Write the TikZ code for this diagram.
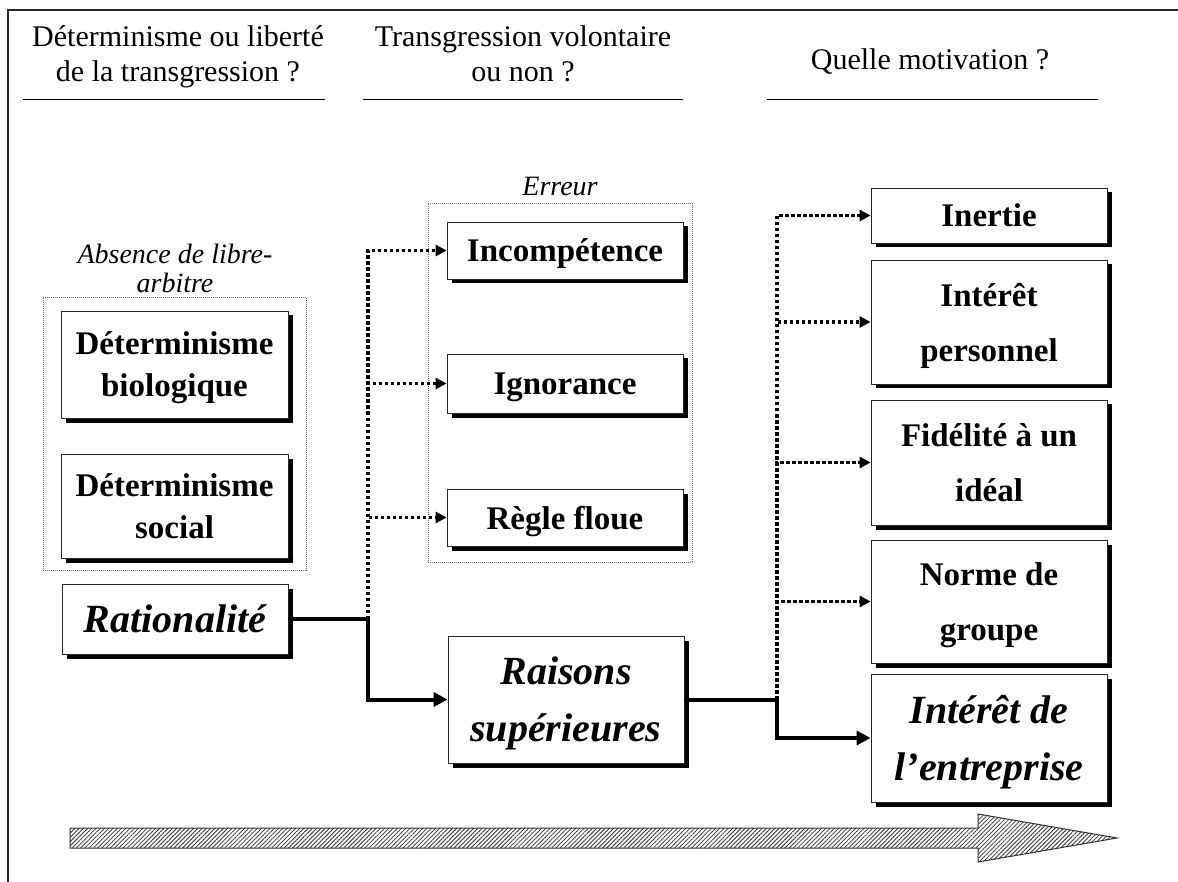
\documentclass[tikz,border=0pt]{standalone}
\usepackage{fontspec}
\setmainfont{Liberation Serif}
\usetikzlibrary{shadows,arrows.meta,patterns.meta}
\begin{document}
\begin{tikzpicture}[x=1pt,y=-1pt,
 box/.style={draw=black!85, line width=0.8pt, fill=white, drop shadow={shadow xshift=4.5pt, shadow yshift=-4.5pt, fill=black, opacity=1}, inner sep=0pt, align=center, text depth=0pt},
 lbox/.style={box, font=\bfseries\fontsize{33}{42}\selectfont},
 rbox/.style={box, font=\bfseries\fontsize{33}{55}\selectfont},
 ibox/.style={box, font=\bfseries\itshape\fontsize{40}{57}\selectfont},
 grp/.style={draw=black!60, line width=0.6pt, dash pattern=on 1pt off 1pt, inner sep=0pt},
 hdr/.style={font=\fontsize{30}{35}\selectfont, align=center, inner sep=0pt},
 lab/.style={font=\itshape\fontsize{28}{29}\selectfont, align=center, inner sep=0pt},
 conn/.style={line width=4pt, -{Triangle[length=14pt,width=14pt]}},
 dconn/.style={line width=3.6pt, dash pattern=on 3.5pt off 2.5pt, -{Triangle[length=11pt,width=11pt]}},
 rulel/.style={line width=1pt},
 hatch/.style={draw=black!80, line width=1pt, pattern={Lines[angle=45,distance=3pt,line width=0.8pt]}, pattern color=black!80}
]
\useasboundingbox (0,0) rectangle (1178,882);
% frame
\draw[line width=1.2pt, black!85] (8,882) -- (8,10) -- (1178,10);

% headers
\node[hdr, anchor=base] (h1) at (178,82) {Déterminisme ou liberté\\de la transgression ?};
\node[hdr, anchor=base] (h2) at (523,82) {Transgression volontaire\\ou non ?};
\node[hdr, anchor=base] (h3) at (930,70) {Quelle motivation ?};
\draw[rulel] (23,100) -- (325,100);
\draw[rulel] (363,100) -- (683,100);
\draw[rulel] (767,100) -- (1098,100);

% groups
\node[grp, minimum width=263, minimum height=273] (g1) at (174.5,433.5) {};
\node[lab, anchor=base] (g1lab) at (175,293) {Absence de libre-\\arbitre};
\node[grp, minimum width=264, minimum height=359] (g2) at (560,382.5) {};
\node[lab, anchor=base] (g2lab) at (560,196) {Erreur};

% left boxes
\node[lbox, minimum width=227, minimum height=107] (detbio) at (174.5,364.5) {Déterminisme\\biologique};
\node[lbox, minimum width=227, minimum height=104] (detsoc) at (174.5,506) {Déterminisme\\social};
\node[ibox, minimum width=226, minimum height=70] (rat) at (175,619) {Rationalité};

% middle boxes
\node[rbox, minimum width=236, minimum height=57] (incomp) at (565,250.5) {Incompétence};
\node[rbox, minimum width=236, minimum height=59] (ignor) at (565,383.5) {Ignorance};
\node[rbox, minimum width=236, minimum height=57] (regle) at (565,517.5) {Règle floue};
\node[ibox, minimum width=236, minimum height=127] (raisons) at (566,699.5) {Raisons\\supérieures};

% right boxes
\node[rbox, minimum width=236, minimum height=55] (inertie) at (989,215.5) {Inertie};
\node[rbox, minimum width=236, minimum height=124] (interet) at (989,322) {Intérêt\\personnel};
\node[rbox, minimum width=236, minimum height=125] (fidel) at (989,462.5) {Fidélité à un\\idéal};
\node[rbox, minimum width=236, minimum height=123] (norme) at (989,601.5) {Norme de\\groupe};
\node[ibox, minimum width=236, minimum height=128] (entr) at (989,738) {Intérêt de\\l’entreprise};

% connectors
\coordinate (j1) at (368,619);
\coordinate (j2) at (777,699.5);
\draw[dconn] (j1) |- (incomp.west);
\draw[dconn] (j1) |- (ignor.west);
\draw[dconn] (j1) |- (regle.west);
\draw[conn] (rat.east) -- (j1) |- (raisons.west);

\draw[dconn] (j2) |- (inertie.west);
\draw[dconn] (j2) |- (interet.west);
\draw[dconn] (j2) |- (fidel.west);
\draw[dconn] (j2) |- (norme.west);
\draw[conn] (raisons.east) -- (j2) |- (entr.west);

% big hatched arrow
\draw[hatch] (70,828) -- (978,828) -- (978,814) -- (1117,838) -- (978,862) -- (978,848) -- (70,848) -- cycle;
\end{tikzpicture}
\end{document}
